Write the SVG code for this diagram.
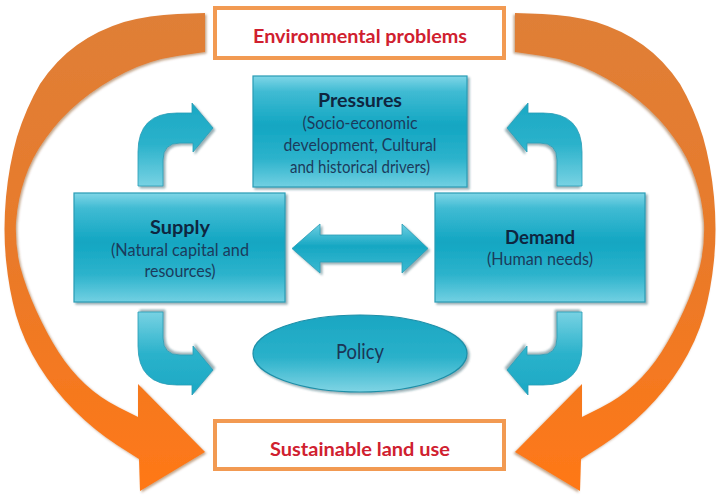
<svg xmlns="http://www.w3.org/2000/svg" xmlns:xlink="http://www.w3.org/1999/xlink" width="720" height="501" viewBox="0 0 720 501">
<defs>
<style>
.obox{fill:#ffffff;stroke:#f29a52;stroke-width:4}
.otxt{font-family:Lato,"Liberation Sans",sans-serif;font-weight:bold;font-size:18px;fill:#d0202f;text-anchor:middle}
.bbox{fill:url(#boxg);stroke:#2a9cb5;stroke-width:1.2;filter:url(#sh)}
.head{font-family:Lato,"Liberation Sans",sans-serif;font-weight:bold;font-size:19px;fill:#0e2640;text-anchor:middle}
.sub{font-family:Lato,"Liberation Sans",sans-serif;font-size:17.5px;fill:#1b3b5c;text-anchor:middle}
.barrow{fill:url(#arrg);stroke:#2a9cb5;stroke-width:0.8;filter:url(#sh)}
.orange{fill:url(#orag);filter:url(#osh)}
</style>
<linearGradient id="boxg" x1="0" y1="0" x2="0" y2="1">
<stop offset="0" stop-color="#80d6e7"/>
<stop offset="0.14" stop-color="#40bbd3"/>
<stop offset="0.45" stop-color="#12a6c2"/>
<stop offset="0.75" stop-color="#2db3cc"/>
<stop offset="1" stop-color="#72d0e2"/>
</linearGradient>
<linearGradient id="arrg" x1="0" y1="0" x2="0" y2="1">
<stop offset="0" stop-color="#1ba8c4"/>
<stop offset="0.5" stop-color="#2bb2cb"/>
<stop offset="1" stop-color="#78d2e3"/>
</linearGradient>
<linearGradient id="dblg" x1="0" y1="0" x2="0" y2="1">
<stop offset="0" stop-color="#6fcfe2"/>
<stop offset="0.45" stop-color="#16a7c3"/>
<stop offset="1" stop-color="#3cb9d1"/>
</linearGradient>
<linearGradient id="ellg" x1="0" y1="0" x2="0" y2="1">
<stop offset="0" stop-color="#1aa6c2"/>
<stop offset="0.55" stop-color="#2ab1ca"/>
<stop offset="1" stop-color="#7fd4e4"/>
</linearGradient>
<linearGradient id="orag" x1="0" y1="0" x2="0" y2="1">
<stop offset="0" stop-color="#df7f37"/>
<stop offset="0.5" stop-color="#e97a2a"/>
<stop offset="1" stop-color="#ff7817"/>
</linearGradient>
<filter id="sh" x="-15%" y="-15%" width="135%" height="135%">
<feDropShadow dx="2" dy="2" stdDeviation="1.2" flood-color="#1d4b58" flood-opacity="0.45"/>
</filter>
<filter id="osh" x="-10%" y="-10%" width="125%" height="125%">
<feDropShadow dx="1.5" dy="1.5" stdDeviation="1" flood-color="#7a3a10" flood-opacity="0.45"/>
</filter>
<path id="bent" d="M138,186 L138,152 Q138,113 177,113 L192,113 L192,103 L213,128 L193,152 L193,143 L180,143 Q163,143 163,160 L163,186 Z"/>
<path id="oarc" d="M205,13 L177.5,14 Q150,15 124,22 Q98,30 77,45 Q56,60 40,84 Q26,108 17,137 Q9,165 6,197 Q3,230 6,260 Q9,290 16,315 Q24,342 39,366 Q54,390 74,410 Q94,430 117,445 L139,459 L140,491 L205,452 L138,384 L138,417 L119,407.5 Q100,398 85,384 Q70,370 58.5,352 Q47,334 36,310 Q26,288 20,266 Q15,245 16,222 Q18,198 25,178 Q32,157 46,138 Q60,118 80,101.5 Q100,85 125,72.5 Q150,60 177.5,56 L205,52 Z"/>
</defs>
<rect width="720" height="501" fill="#ffffff"/>
<g id="connectors">
<use xlink:href="#oarc" class="orange"/>
<use xlink:href="#oarc" class="orange" transform="translate(720,0) scale(-1,1)"/>
<use xlink:href="#bent" class="barrow"/>
<use xlink:href="#bent" class="barrow" transform="translate(720,0) scale(-1,1)"/>
<use xlink:href="#bent" class="barrow" transform="translate(0,498) scale(1,-1)"/>
<use xlink:href="#bent" class="barrow" transform="translate(720,498) scale(-1,-1)"/>
<path d="M292,248.5 L320,224 L320,235 L402,235 L402,224 L428,248.5 L402,273 L402,262 L320,262 L320,273 Z" fill="url(#dblg)" stroke="#2a9cb5" stroke-width="0.8" filter="url(#sh)"/>
</g>
<g id="node-environmental-problems">
<rect class="obox" x="215" y="8" width="289" height="50"/>
<text class="otxt" x="360" y="43" textLength="214" lengthAdjust="spacingAndGlyphs">Environmental problems</text>
</g>
<g id="node-pressures">
<rect class="bbox" x="253" y="76" width="214" height="111"/>
<text class="head" x="360" y="107" textLength="84" lengthAdjust="spacingAndGlyphs">Pressures</text>
<text class="sub" x="360" y="129" textLength="115" lengthAdjust="spacingAndGlyphs">(Socio-economic</text>
<text class="sub" x="360" y="151" textLength="153" lengthAdjust="spacingAndGlyphs">development, Cultural</text>
<text class="sub" x="360" y="173" textLength="140" lengthAdjust="spacingAndGlyphs">and historical drivers)</text>
</g>
<g id="node-supply">
<rect class="bbox" x="74" y="193" width="211" height="109"/>
<text class="head" x="180" y="234" textLength="60" lengthAdjust="spacingAndGlyphs">Supply</text>
<text class="sub" x="180" y="256" textLength="138" lengthAdjust="spacingAndGlyphs">(Natural capital and</text>
<text class="sub" x="180" y="277" textLength="71" lengthAdjust="spacingAndGlyphs">resources)</text>
</g>
<g id="node-demand">
<rect class="bbox" x="435" y="193" width="210" height="109"/>
<text class="head" x="540" y="244" textLength="70" lengthAdjust="spacingAndGlyphs">Demand</text>
<text class="sub" x="540" y="265" textLength="106" lengthAdjust="spacingAndGlyphs">(Human needs)</text>
</g>
<g id="node-policy">
<ellipse cx="360" cy="353.5" rx="107" ry="38.5" fill="url(#ellg)" stroke="#1d8fa8" stroke-width="1.2" filter="url(#sh)"/>
<text x="360" y="359" font-family="Lato,'Liberation Sans',sans-serif" font-size="21px" fill="#1b3556" text-anchor="middle" textLength="48" lengthAdjust="spacingAndGlyphs">Policy</text>
</g>
<g id="node-sustainable-land-use">
<rect class="obox" x="215" y="421" width="289" height="48"/>
<text class="otxt" x="360" y="456" textLength="180" lengthAdjust="spacingAndGlyphs">Sustainable land use</text>
</g>
</svg>
